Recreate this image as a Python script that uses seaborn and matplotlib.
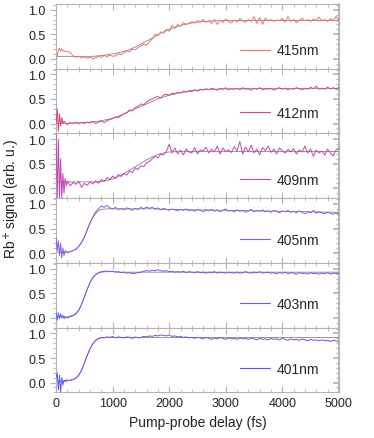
import numpy as np
import pandas as pd
import matplotlib
matplotlib.use("Agg")
import matplotlib.pyplot as plt
from matplotlib.lines import Line2D
from matplotlib.ticker import MultipleLocator, FormatStrFormatter
import seaborn as sns

# delay axis of the measured traces (fs): fine steps near zero, then 50 fs steps
delay = np.concatenate([np.arange(0, 200, 20), np.arange(200, 5001, 50)])
# delay axis of the fitted curves (fs)
fit_delay = [0, 100, 200, 300, 350, 400, 450, 500, 550, 600, 650, 700, 750, 800,
             900, 1000, 1100, 1200, 1300, 1400, 1500, 1600, 1700, 1800, 1900, 2000,
             2200, 2400, 2600, 2800, 3000, 3500, 4000, 4500, 5000]

labels = ["415nm", "412nm", "409nm", "405nm", "403nm", "401nm"]

sig_415 = [0.0, 0.05, 0.18, 0.22, 0.15, 0.2, 0.17, 0.15, 0.16, 0.14,
           0.15, 0.13, 0.06, 0.03, 0.05, 0.02, 0.04, 0.01, 0.03, 0.00,
           0.02, 0.05, 0.03, 0.07, 0.04, 0.08, 0.05, 0.06, 0.10, 0.08,
           0.12, 0.16, 0.14, 0.20, 0.18, 0.23, 0.26, 0.30, 0.28, 0.35,
           0.40, 0.50, 0.47, 0.55, 0.52, 0.60, 0.56, 0.68, 0.62, 0.70,
           0.66, 0.74, 0.70, 0.72, 0.76, 0.73, 0.78, 0.75, 0.80, 0.74,
           0.78, 0.72, 0.80, 0.70, 0.79, 0.74, 0.81, 0.76, 0.73, 0.79,
           0.75, 0.82, 0.77, 0.74, 0.80, 0.76, 0.86, 0.72, 0.84, 0.70,
           0.83, 0.77, 0.80, 0.76, 0.79, 0.78, 0.82, 0.75, 0.86, 0.76,
           0.80, 0.74, 0.78, 0.83, 0.77, 0.80, 0.76, 0.81, 0.78, 0.85,
           0.77, 0.80, 0.76, 0.82, 0.78, 0.86, 0.79]
sig_412 = [0.0, 0.30, -0.15, 0.20, -0.05, 0.12, 0.0, 0.05, 0.02, 0.0,
           -0.02, 0.02, 0.0, 0.03, -0.01, 0.02, 0.0, 0.03, 0.01, 0.04,
           0.0, 0.03, 0.05, 0.02, 0.06, 0.08, 0.10, 0.13, 0.12, 0.16,
           0.20, 0.22, 0.28, 0.26, 0.33, 0.35, 0.40, 0.38, 0.44, 0.48,
           0.50, 0.53, 0.55, 0.52, 0.58, 0.60, 0.57, 0.62, 0.60, 0.64,
           0.62, 0.66, 0.64, 0.67, 0.65, 0.69, 0.66, 0.70, 0.68, 0.71,
           0.69, 0.72, 0.70, 0.68, 0.72, 0.70, 0.73, 0.69, 0.71, 0.70,
           0.72, 0.69, 0.73, 0.70, 0.71, 0.68, 0.72, 0.70, 0.73, 0.69,
           0.71, 0.70, 0.72, 0.68, 0.71, 0.73, 0.70, 0.72, 0.69, 0.71,
           0.70, 0.73, 0.71, 0.69, 0.72, 0.70, 0.74, 0.71, 0.76, 0.70,
           0.72, 0.70, 0.74, 0.71, 0.73, 0.70, 0.74]
sig_409 = [1.10, -0.20, 1.00, -0.20, 0.60, -0.20, 0.30, -0.10, 0.20, 0.05,
           0.15, 0.05, 0.12, 0.08, 0.14, 0.02, 0.10, 0.06, 0.13, 0.09,
           0.15, 0.10, 0.18, 0.14, 0.22, 0.17, 0.25, 0.20, 0.28, 0.24,
           0.30, 0.27, 0.35, 0.32, 0.42, 0.38, 0.46, 0.44, 0.52, 0.55,
           0.60, 0.65, 0.62, 0.70, 0.68, 0.75, 0.90, 0.72, 0.82, 0.70,
           0.78, 0.68, 0.80, 0.74, 0.72, 0.83, 0.70, 0.78, 0.76, 0.84,
           0.72, 0.80, 0.74, 0.86, 0.70, 0.82, 0.75, 0.78, 0.73, 0.85,
           0.76, 0.95, 0.70, 0.84, 0.74, 0.88, 0.72, 0.80, 0.68, 0.83,
           0.77, 0.86, 0.73, 0.80, 0.70, 0.82, 0.76, 0.72, 0.79, 0.74,
           0.81, 0.70, 0.78, 0.74, 0.86, 0.72, 0.80, 0.65, 0.78, 0.72,
           0.76, 0.68, 0.80, 0.72, 0.66, 0.78, 0.82]
sig_405 = [0.30, 0.05, 0.25, -0.05, 0.20, -0.10, 0.10, -0.05, 0.05, 0.02,
           0.0, 0.03, 0.05, 0.08, 0.14, 0.22, 0.33, 0.48, 0.62, 0.74,
           0.84, 0.90, 0.96, 0.93, 0.97, 0.92, 0.90, 0.93, 0.89, 0.91,
           0.88, 0.92, 0.90, 0.87, 0.91, 0.89, 0.93, 0.90, 0.94, 0.91,
           0.93, 0.90, 0.92, 0.88, 0.91, 0.89, 0.87, 0.90, 0.88, 0.86,
           0.89, 0.87, 0.90, 0.86, 0.88, 0.85, 0.89, 0.87, 0.84, 0.88,
           0.86, 0.89, 0.85, 0.88, 0.84, 0.87, 0.90, 0.85, 0.87, 0.84,
           0.88, 0.85, 0.87, 0.83, 0.86, 0.89, 0.84, 0.87, 0.85, 0.88,
           0.84, 0.86, 0.83, 0.87, 0.85, 0.82, 0.86, 0.84, 0.87, 0.83,
           0.85, 0.82, 0.86, 0.83, 0.80, 0.84, 0.82, 0.87, 0.81, 0.84,
           0.82, 0.80, 0.83, 0.81, 0.79, 0.82, 0.78]
sig_403 = [0.12, -0.05, 0.10, -0.02, 0.08, 0.0, 0.05, -0.02, 0.02, 0.0,
           0.0, 0.02, 0.04, 0.08, 0.15, 0.27, 0.42, 0.58, 0.72, 0.82,
           0.88, 0.92, 0.94, 0.95, 0.95, 0.94, 0.95, 0.93, 0.94, 0.92,
           0.93, 0.91, 0.92, 0.90, 0.91, 0.92, 0.93, 0.95, 0.96, 0.95,
           0.97, 0.96, 0.98, 0.96, 0.95, 0.96, 0.94, 0.95, 0.93, 0.94,
           0.93, 0.95, 0.92, 0.94, 0.93, 0.92, 0.94, 0.92, 0.93, 0.91,
           0.93, 0.92, 0.94, 0.91, 0.93, 0.92, 0.91, 0.93, 0.92, 0.91,
           0.93, 0.91, 0.92, 0.94, 0.92, 0.91, 0.93, 0.92, 0.94, 0.91,
           0.92, 0.93, 0.91, 0.92, 0.90, 0.92, 0.91, 0.93, 0.90, 0.92,
           0.91, 0.89, 0.92, 0.90, 0.91, 0.89, 0.92, 0.90, 0.91, 0.89,
           0.91, 0.90, 0.92, 0.89, 0.91, 0.90, 0.91]
sig_401 = [0.10, 0.20, -0.15, 0.15, -0.20, 0.10, -0.05, 0.05, 0.02, 0.06,
           0.04, 0.05, 0.06, 0.09, 0.15, 0.25, 0.40, 0.55, 0.69, 0.79,
           0.86, 0.90, 0.92, 0.91, 0.93, 0.92, 0.94, 0.91, 0.93, 0.92,
           0.91, 0.93, 0.92, 0.90, 0.93, 0.91, 0.92, 0.94, 0.93, 0.95,
           0.94, 0.96, 0.95, 0.97, 0.96, 0.95, 0.97, 0.94, 0.95, 0.93,
           0.94, 0.92, 0.93, 0.91, 0.92, 0.90, 0.92, 0.91, 0.89, 0.92,
           0.90, 0.88, 0.91, 0.89, 0.92, 0.90, 0.88, 0.91, 0.89, 0.90,
           0.88, 0.91, 0.89, 0.90, 0.88, 0.91, 0.89, 0.87, 0.90, 0.88,
           0.89, 0.87, 0.90, 0.88, 0.89, 0.87, 0.90, 0.88, 0.86, 0.89,
           0.87, 0.88, 0.86, 0.89, 0.87, 0.85, 0.88, 0.86, 0.87, 0.85,
           0.87, 0.85, 0.86, 0.84, 0.86, 0.85, 0.83]

fit_415 = [0.05, 0.05, 0.05, 0.05, 0.05, 0.05, 0.05, 0.05, 0.05, 0.05, 0.05,
           0.055, 0.06, 0.065, 0.08, 0.10, 0.12, 0.15, 0.19, 0.24, 0.30, 0.36,
           0.42, 0.49, 0.55, 0.60, 0.68, 0.73, 0.76, 0.775, 0.78, 0.78, 0.78,
           0.78, 0.78]
fit_412 = [0.0, 0.0, 0.005, 0.01, 0.012, 0.015, 0.018, 0.02, 0.025, 0.03, 0.035,
           0.04, 0.05, 0.06, 0.08, 0.11, 0.15, 0.20, 0.25, 0.30, 0.35, 0.40,
           0.45, 0.50, 0.54, 0.58, 0.63, 0.67, 0.69, 0.70, 0.705, 0.71, 0.71,
           0.71, 0.71]
fit_409 = [0.13, 0.13, 0.13, 0.13, 0.13, 0.13, 0.13, 0.13, 0.13, 0.13, 0.13,
           0.13, 0.135, 0.14, 0.16, 0.19, 0.24, 0.30, 0.37, 0.44, 0.51, 0.58,
           0.64, 0.69, 0.72, 0.74, 0.75, 0.75, 0.75, 0.75, 0.75, 0.75, 0.75,
           0.75, 0.75]
fit_405 = [0.02, 0.01, 0.02, 0.05, 0.08, 0.13, 0.21, 0.32, 0.46, 0.60, 0.72,
           0.81, 0.86, 0.89, 0.90, 0.90, 0.90, 0.90, 0.90, 0.90, 0.90, 0.90,
           0.90, 0.895, 0.89, 0.89, 0.885, 0.88, 0.88, 0.875, 0.87, 0.86, 0.85,
           0.84, 0.83]
fit_403 = [0.03, 0.02, 0.02, 0.05, 0.09, 0.16, 0.27, 0.42, 0.58, 0.72, 0.82,
           0.88, 0.91, 0.93, 0.94, 0.94, 0.93, 0.93, 0.93, 0.93, 0.93, 0.93,
           0.93, 0.93, 0.93, 0.93, 0.93, 0.93, 0.93, 0.93, 0.93, 0.93, 0.93,
           0.93, 0.93]
fit_401 = [0.03, 0.03, 0.03, 0.06, 0.09, 0.15, 0.25, 0.40, 0.55, 0.69, 0.79,
           0.86, 0.89, 0.91, 0.92, 0.92, 0.92, 0.92, 0.92, 0.92, 0.92, 0.92,
           0.92, 0.92, 0.92, 0.92, 0.92, 0.92, 0.92, 0.92, 0.92, 0.92, 0.92,
           0.92, 0.92]

signals = [sig_415, sig_412, sig_409, sig_405, sig_403, sig_401]
fits = [fit_415, fit_412, fit_409, fit_405, fit_403, fit_401]

colors = ["#f47070", "#d8466e", "#c444b8", "#8a58e6", "#5e5ef2", "#5858f8"]
legend_y = [0.28, 0.32, 0.28, 0.35, 0.37, 0.36]

sns.set_theme(style="ticks")
plt.rcParams["font.family"] = ["Liberation Sans", "DejaVu Sans"]

fig, axes = plt.subplots(6, 1, figsize=(3.74, 4.39), dpi=100, sharex=True)
fig.subplots_adjust(left=0.150, right=0.906, top=0.989, bottom=0.104, hspace=0)

for ax, sig, fit, lab, col, ly in zip(axes, signals, fits, labels, colors, legend_y):
    df = pd.DataFrame({"delay": delay, "signal": sig})
    df_fit = pd.DataFrame({"delay": fit_delay, "fit": fit})
    sns.lineplot(data=df_fit, x="delay", y="fit", ax=ax, color="#7a7a7a", lw=0.55,
                 estimator=None, sort=False, legend=False, zorder=2)
    sns.lineplot(data=df, x="delay", y="signal", ax=ax, color=col, lw=0.7,
                 estimator=None, sort=False, legend=False, zorder=3)
    ax.set_xlim(0, 5000)
    ax.set_ylim(-0.2, 1.12)
    ax.set_ylabel("")
    ax.set_xlabel("")
    ax.yaxis.set_major_locator(MultipleLocator(0.5))
    ax.yaxis.set_minor_locator(MultipleLocator(0.1))
    ax.yaxis.set_major_formatter(FormatStrFormatter("%.1f"))
    ax.xaxis.set_major_locator(MultipleLocator(1000))
    ax.xaxis.set_minor_locator(MultipleLocator(200))
    for s in ax.spines.values():
        s.set_visible(True)
        s.set_color("#b4b4b4")
        s.set_linewidth(0.8)
    ax.tick_params(axis="y", which="both", direction="out", left=True, right=False,
                   colors="#b4b4b4", labelcolor="#222222", labelsize=9)
    ax.tick_params(axis="y", which="major", length=4, width=0.8)
    ax.tick_params(axis="y", which="minor", length=2.5, width=0.6)
    ax.tick_params(axis="x", which="both", direction="in", top=True, bottom=True,
                   colors="#b4b4b4", labelcolor="#222222", labelsize=9)
    ax.tick_params(axis="x", which="major", length=4, width=0.8)
    ax.tick_params(axis="x", which="minor", length=2.5, width=0.6)
    # inward ticks along the right edge
    sec = ax.secondary_yaxis("right")
    sec.yaxis.set_major_locator(MultipleLocator(0.5))
    sec.yaxis.set_minor_locator(MultipleLocator(0.1))
    sec.tick_params(which="both", direction="in", colors="#b4b4b4", labelright=False)
    sec.tick_params(which="major", length=4)
    sec.tick_params(which="minor", length=2.5)
    sec.spines["right"].set_color("#b4b4b4")
    handle = Line2D([], [], color=col, lw=0.8)
    ax.legend([handle], [lab], loc="center left", bbox_to_anchor=(0.65, ly),
              frameon=False, borderpad=0, borderaxespad=0, handlelength=2.2,
              handletextpad=0.45, fontsize=10)

axes[-1].set_xlabel("Pump-probe delay (fs)", fontsize=10, color="#222222")
fig.text(0.032, 0.546, "Rb$^+$signal (arb. u.)", rotation=90, va="center",
         ha="center", fontsize=10, color="#222222")

fig.savefig("out.png", dpi=100)
